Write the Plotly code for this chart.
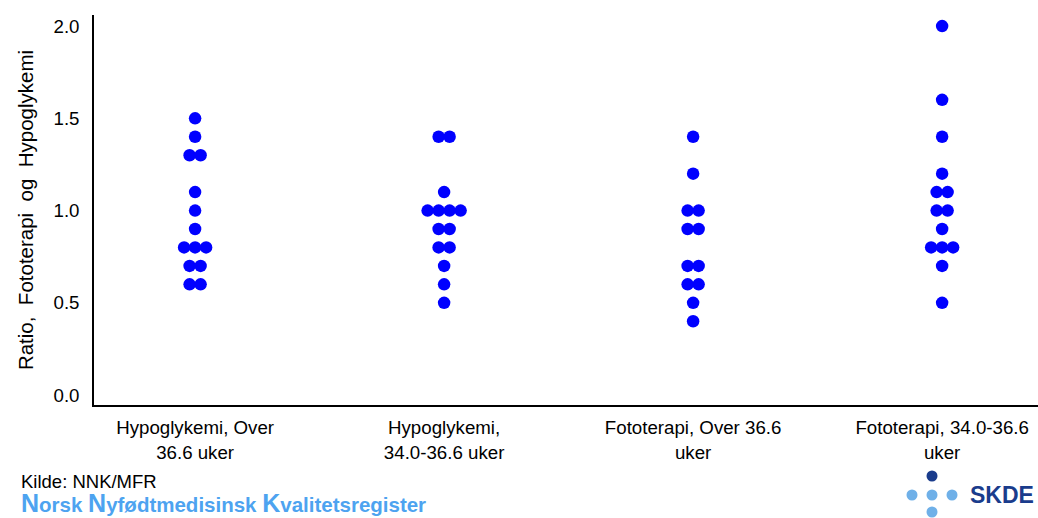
import plotly.graph_objects as go
from collections import Counter

categories = [
    "Hypoglykemi, Over<br>36.6 uker",
    "Hypoglykemi,<br>34.0-36.6 uker",
    "Fototerapi, Over 36.6<br>uker",
    "Fototerapi, 34.0-36.6<br>uker",
]
hypo_over = [1.5, 1.4, 1.3, 1.3, 1.1, 1.0, 0.9, 0.8, 0.8, 0.8, 0.7, 0.7, 0.6, 0.6]
hypo_34 = [1.4, 1.4, 1.1, 1.0, 1.0, 1.0, 1.0, 0.9, 0.9, 0.8, 0.8, 0.7, 0.6, 0.5]
foto_over = [1.4, 1.2, 1.0, 1.0, 0.9, 0.9, 0.7, 0.7, 0.6, 0.6, 0.5, 0.4]
foto_34 = [2.0, 1.6, 1.4, 1.2, 1.1, 1.1, 1.0, 1.0, 0.9, 0.8, 0.8, 0.8, 0.7, 0.5]
series = [hypo_over, hypo_34, foto_over, foto_34]
y_ticks = [0.0, 0.5, 1.0, 1.5, 2.0]

W, H = 1038, 518
L, R, T, B = 94, 0, 15, 113
xr = [-0.406, 3.385]
px_per_unit = (W - L - R) / (xr[1] - xr[0])
step = 11.0 / px_per_unit

xs, ys = [], []
for i, vals in enumerate(series):
    cnt = Counter(vals)
    for v, n in cnt.items():
        for k in range(n):
            xs.append(i + (k - (n - 1) / 2) * step)
            ys.append(v)

fig = go.Figure()
fig.add_trace(go.Scatter(
    x=xs, y=ys, mode="markers",
    marker=dict(color="#0000FF", size=12.5, line=dict(width=0)),
    showlegend=False, hoverinfo="y",
))

fig.update_layout(
    width=W, height=H,
    margin=dict(l=L, r=R, t=T, b=B),
    plot_bgcolor="white", paper_bgcolor="white",
    font=dict(family="Liberation Sans, Arial, sans-serif", color="black", size=18.7),
    xaxis=dict(
        range=xr, tickmode="array", tickvals=list(range(len(categories))),
        ticktext=categories, showgrid=False, zeroline=False,
        showline=True, linecolor="black", linewidth=1.5, ticks="",
        tickfont=dict(size=18.7), ticklabelstandoff=5,
    ),
    yaxis=dict(
        range=[-0.054, 2.06], tickmode="array", tickvals=y_ticks,
        ticktext=[f"{v:.1f}" for v in y_ticks], showgrid=False, zeroline=False,
        showline=True, linecolor="black", linewidth=1.5, ticks="",
        tickfont=dict(size=18.7), ticklabelstandoff=9,
        title=dict(text="Ratio,  Fototerapi  og  Hypoglykemi", font=dict(size=20.5), standoff=14),
    ),
)

def px(x):
    return (x - L) / (W - L - R)

def py(y):
    return (H - B - y) / (H - T - B)

fig.add_annotation(x=px(20), y=py(481), xref="paper", yref="paper",
                   text="Kilde: NNK/MFR", showarrow=False, xanchor="left", yanchor="middle",
                   font=dict(size=18.5, color="black"), borderpad=0)
lb = "#4DA3F0"
big = lambda c: f"<span style='font-size:25px'>{c}</span>"
fig.add_annotation(x=px(20), y=py(503), xref="paper", yref="paper",
                   text=f"<b>{big('N')}orsk {big('N')}yfødtmedisinsk {big('K')}valitetsregister</b>",
                   showarrow=False, xanchor="left", yanchor="middle",
                   font=dict(size=20.5, color=lb), borderpad=0)

# SKDE logo
navy = "#1A3C8C"
light = "#6FB0E8"
r = 5.5
for (cx, cy, col) in [(932, 476, navy), (912, 495, light), (932, 495, light), (952, 495, light), (932, 512, light)]:
    fig.add_shape(type="circle", xref="paper", yref="paper",
                  x0=px(cx - r), x1=px(cx + r), y0=py(cy + r), y1=py(cy - r),
                  fillcolor=col, line=dict(width=0))
fig.add_annotation(x=px(968), y=py(495), xref="paper", yref="paper",
                   text="<b>SKDE</b>", showarrow=False, xanchor="left", yanchor="middle",
                   font=dict(size=23, color=navy))

fig.write_html(
    "out.html",
    config={"displayModeBar": False},
    post_script="document.body.style.margin='0';document.body.style.overflow='hidden';",
)
